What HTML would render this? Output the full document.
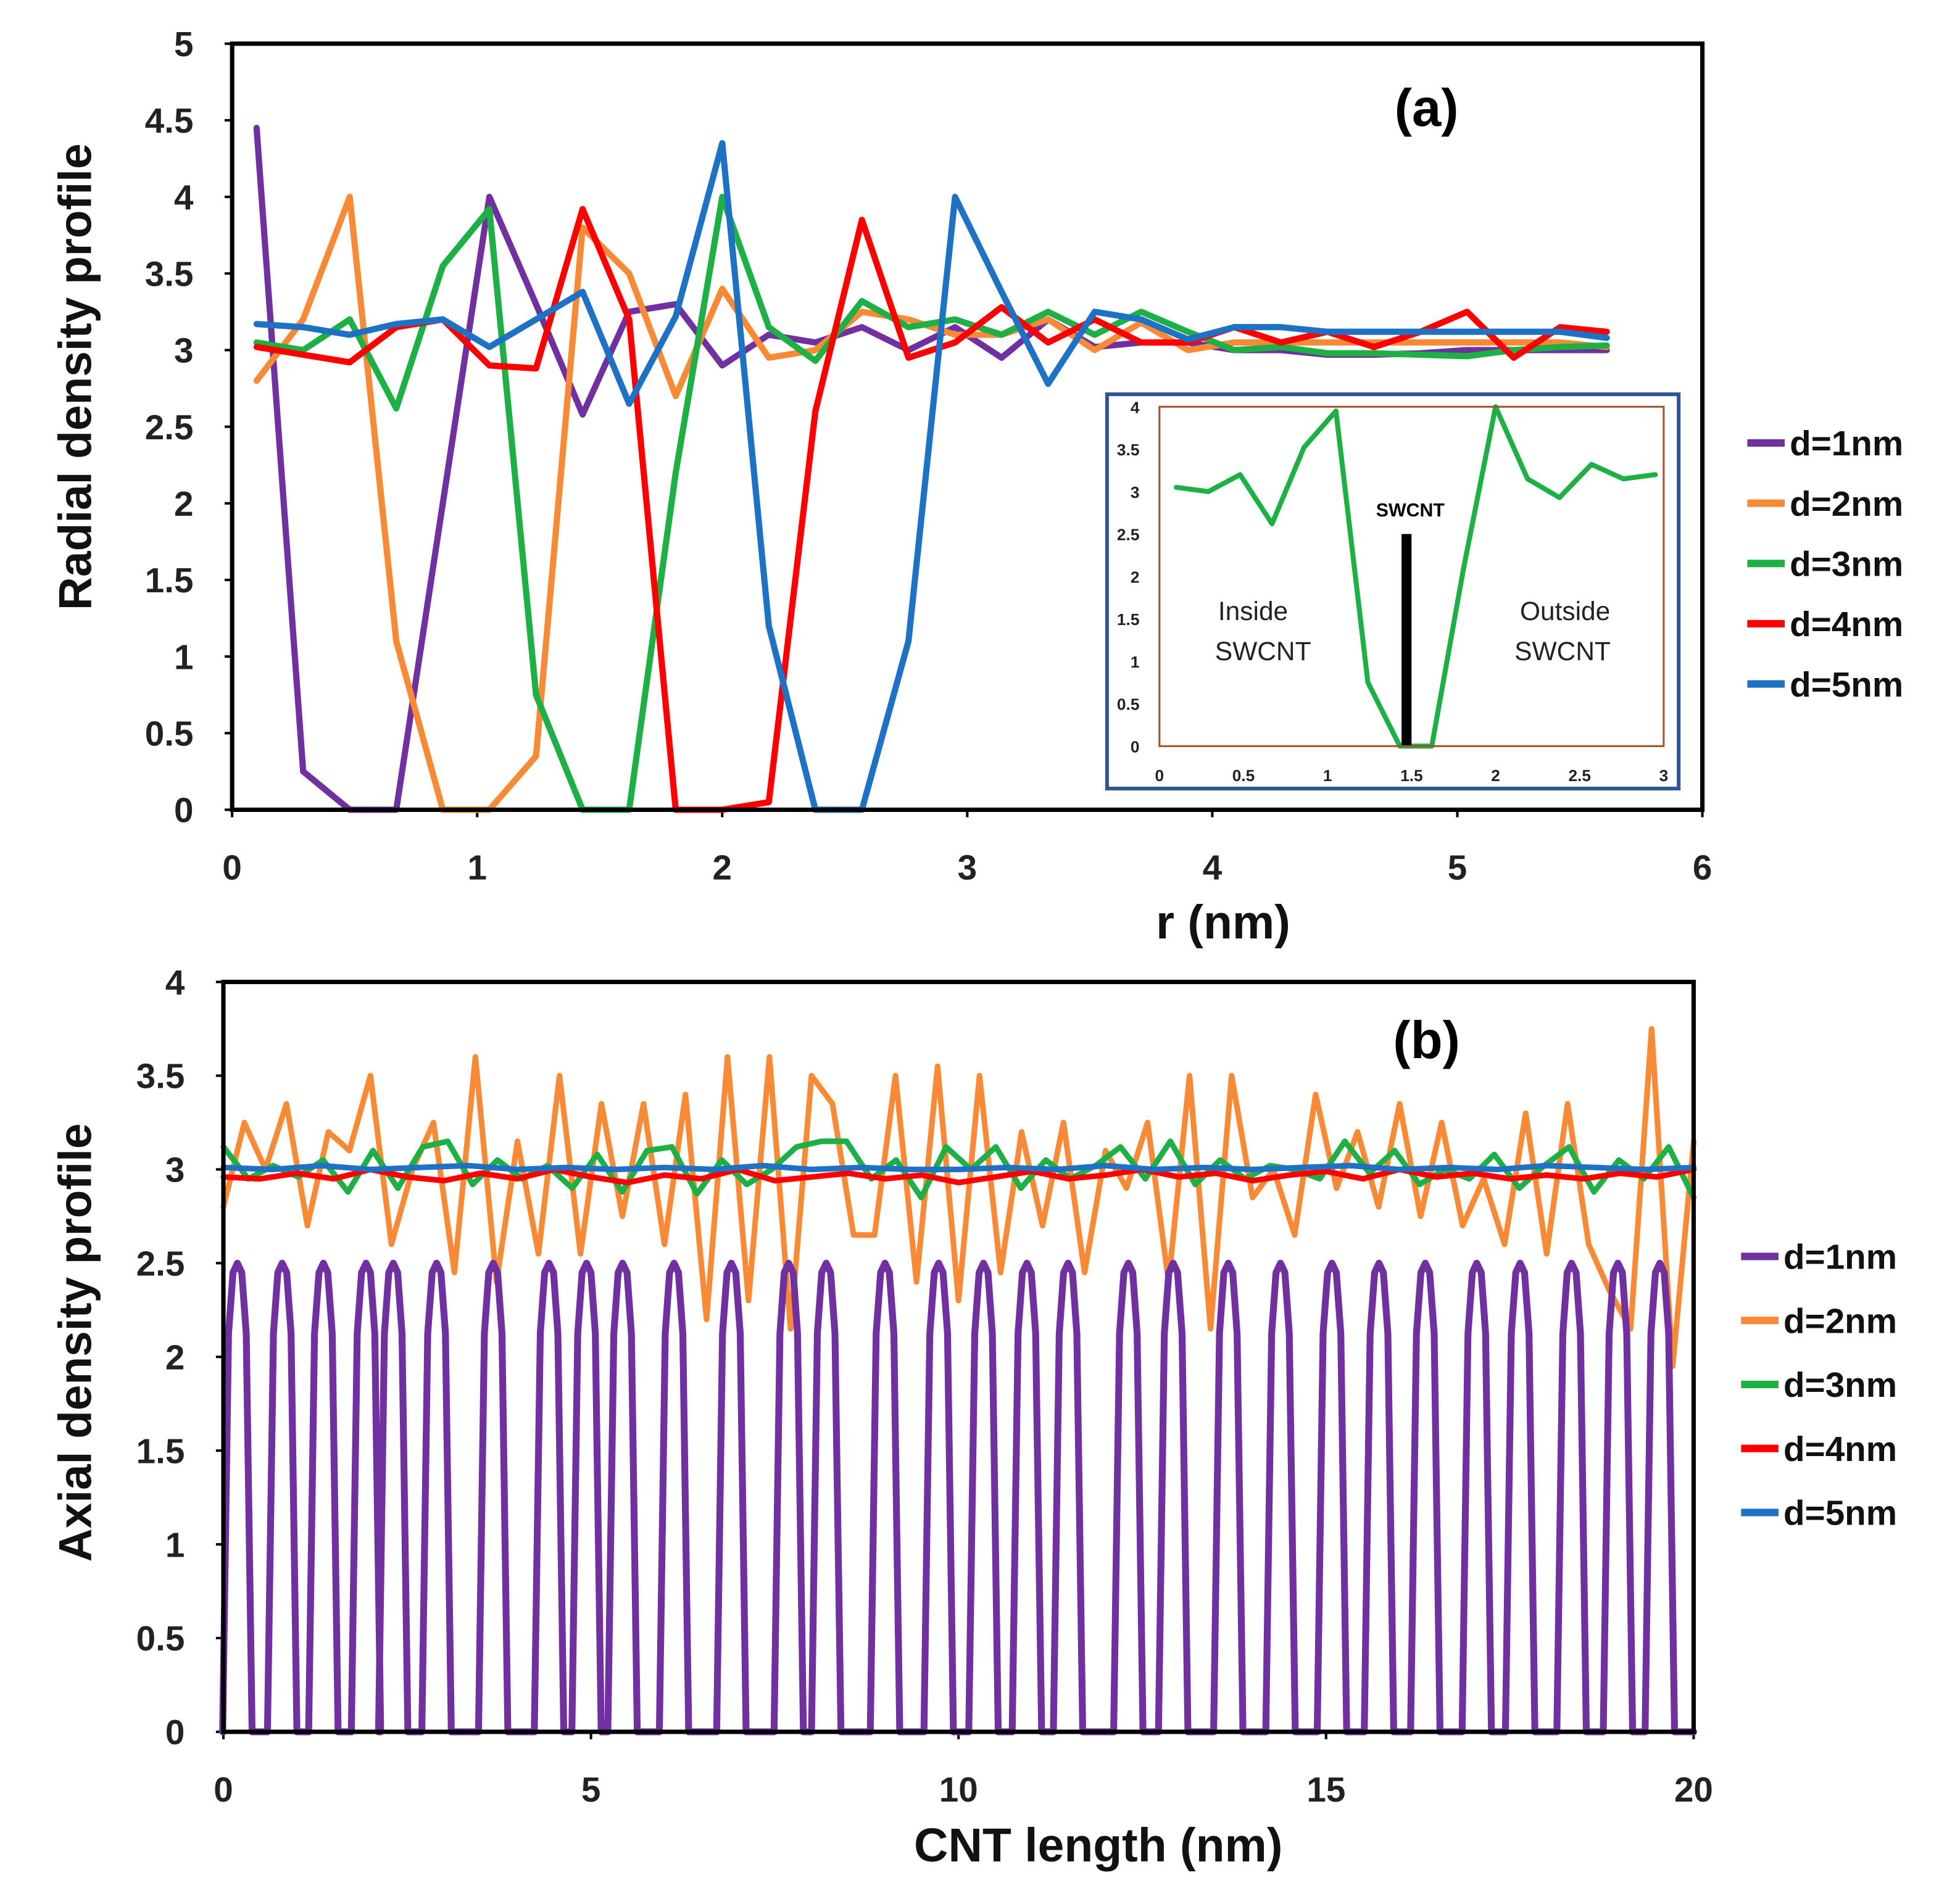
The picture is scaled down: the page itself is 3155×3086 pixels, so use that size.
<!DOCTYPE html>
<html><head><meta charset="utf-8"><style>
html,body{margin:0;padding:0;background:#fff;}
svg{display:block;font-family:"Liberation Sans",Arial,sans-serif;}
</style></head><body>
<svg id="fig" width="3155" height="3086" viewBox="0 0 1560 1526" preserveAspectRatio="none" xmlns="http://www.w3.org/2000/svg">
<rect width="1560" height="1526" fill="#fff"/>
<g id="chartA"></g>
<g id="inset"></g>
<g id="chartB"></g>
</svg>
<script>
// ---------- Data (a) ----------
const rStart = 0.1, rStep = 0.19;
const radD1 = [4.45,0.25,0,0,2.0,4.0,3.3,2.58,3.25,3.3,2.9,3.1,3.05,3.15,3.0,3.15,2.95,3.2,3.02,3.05,3.05,3.0,3.0,2.97,2.97,2.98,3.0,3.0,3.0,3.0];
const radD2 = [2.8,3.2,4.0,1.1,0,0,0.35,3.8,3.5,2.7,3.4,2.95,3.0,3.25,3.2,3.1,3.1,3.2,3.0,3.18,3.0,3.05,3.05,3.05,3.05,3.05,3.05,3.05,3.05,3.02];
const radD3 = [3.05,3.0,3.2,2.62,3.55,3.92,0.75,0,0,2.2,4.0,3.15,2.93,3.32,3.15,3.2,3.1,3.25,3.1,3.25,3.12,3.0,3.02,2.98,2.98,2.97,2.96,3.0,3.02,3.03];
const radD4 = [3.02,2.97,2.92,3.15,3.2,2.9,2.88,3.92,3.2,0,0,0.05,2.6,3.85,2.95,3.05,3.28,3.05,3.2,3.05,3.05,3.15,3.05,3.12,3.02,3.12,3.25,2.95,3.15,3.12];
const radD5 = [3.17,3.15,3.1,3.17,3.2,3.02,3.2,3.38,2.65,3.22,4.35,1.2,0,0,1.1,4.0,3.38,2.78,3.25,3.2,3.07,3.15,3.15,3.12,3.12,3.12,3.12,3.12,3.12,3.08];
const aXTicks = ["0","1","2","3","4","5","6"];
const aYTicks = ["0","0.5","1","1.5","2","2.5","3","3.5","4","4.5","5"];
// inset
const insetVals = [3.05,3.0,3.2,2.62,3.52,3.95,0.75,0,0,2.1,4.0,3.15,2.93,3.32,3.15,3.2];
const insetXTicks = ["0","0.5","1","1.5","2","2.5","3"];
const insetYTicks = ["0","0.5","1","1.5","2","2.5","3","3.5","4"];
const swcntPos = 1.47, swcntHeight = 2.5;
// ---------- Data (b) ----------
const peakCenters = [0.19,0.80,1.36,1.94,2.31,2.90,3.67,4.43,4.94,5.43,6.13,6.91,7.69,8.2,9.0,9.73,10.34,10.93,11.49,12.31,12.92,13.67,14.38,15.08,15.72,16.35,17.05,17.64,18.34,18.97,19.54];
const peakHeight = 2.5;
const axD2 = [2.8,3.25,3.0,3.35,2.7,3.2,3.1,3.5,2.6,3.0,3.25,2.45,3.6,2.4,3.15,2.55,3.5,2.55,3.35,2.75,3.35,2.6,3.4,2.2,3.6,2.3,3.6,2.15,3.5,3.35,2.65,2.65,3.5,2.4,3.55,2.3,3.5,2.45,3.2,2.7,3.25,2.45,3.1,2.9,3.25,2.4,3.5,2.15,3.5,2.85,3.0,2.65,3.4,2.9,3.2,2.8,3.35,2.75,3.25,2.7,2.95,2.6,3.3,2.55,3.35,2.6,2.35,2.15,3.75,1.95,3.15];
const axD3 = [3.12,2.95,3.02,2.96,3.05,2.88,3.1,2.9,3.12,3.15,2.92,3.05,2.95,3.02,2.9,3.08,2.88,3.1,3.12,2.87,3.05,2.92,3.0,3.12,3.15,3.15,2.95,3.05,2.85,3.12,3.0,3.12,2.9,3.05,2.95,3.02,3.12,2.95,3.15,2.92,3.05,2.95,3.02,3.0,2.95,3.15,2.98,3.1,2.92,3.0,2.95,3.08,2.9,3.02,3.12,2.88,3.05,2.95,3.12,2.85];
const axD4 = [2.96,2.95,2.98,2.95,3.0,2.96,2.94,2.98,2.95,3.0,2.96,2.93,2.97,2.95,3.0,2.94,2.96,2.98,2.95,2.97,2.93,2.96,2.99,2.95,2.97,3.0,2.96,2.98,2.94,2.97,2.99,2.95,3.0,2.96,2.98,2.95,2.97,2.95,2.98,2.96,3.0];
const axD5 = [3.01,3.0,3.02,3.0,3.01,3.02,3.0,3.01,3.0,3.01,3.0,3.02,3.0,3.01,3.0,3.0,3.01,3.0,3.02,3.0,3.01,3.0,3.01,3.02,3.0,3.01,3.0,3.02,3.01,3.0,3.01];
const bXTicks = ["0","5","10","15","20"];
const bYTicks = ["0","0.5","1","1.5","2","2.5","3","3.5","4"];
const seriesNames = ["d=1nm","d=2nm","d=3nm","d=4nm","d=5nm"];
const colors = ["#7030A0","#F98A35","#1DB044","#FF0000","#1E72C6"];

const NS="http://www.w3.org/2000/svg";
function mk(tag,attrs,parent,text){const e=document.createElementNS(NS,tag);for(const k in attrs)e.setAttribute(k,attrs[k]);if(text!==undefined)e.textContent=text;parent.appendChild(e);return e;}
function line(pts,color,w,parent,name){
  const p=mk('polyline',{points:pts.map(q=>q[0].toFixed(1)+','+q[1].toFixed(1)).join(' '),fill:'none',stroke:color,'stroke-width':w,'stroke-linejoin':'round','stroke-linecap':'round'},parent);
  
  
  return p;
}

// ---------- Chart A ----------
(function(){
  const g=document.getElementById('chartA');
  const L=186,R=1364,T=35,B=649, xMax=6, yMax=5;
  const sx=v=>L+v/xMax*(R-L), sy=v=>B-v/yMax*(B-T);
  aYTicks.forEach(t=>{const y=sy(parseFloat(t));
    const e=mk('text',{x:155,y:y+10,'text-anchor':'end','font-size':28,'font-weight':'bold',fill:'#222'},g,t);
    
    mk('line',{x1:L-6,x2:L,y1:y,y2:y,stroke:'#000','stroke-width':2},g);});
  aXTicks.forEach(t=>{const x=sx(parseFloat(t));
    const e=mk('text',{x:x,y:705,'text-anchor':'middle','font-size':28,'font-weight':'bold',fill:'#222'},g,t);
    
    mk('line',{x1:x,x2:x,y1:B,y2:B+6,stroke:'#000','stroke-width':2},g);});
  const series=[radD1,radD2,radD3,radD4,radD5];
  series.forEach((s,i)=>line(s.map((v,j)=>[sx(rStart+j*rStep),sy(v)]),colors[i],5,g,'radial-line-'+(i+1)+'nm'));
  const fr=mk('rect',{x:L,y:T,width:R-L,height:B-T,fill:'none',stroke:'#000','stroke-width':3.5},g);
  
  let e=mk('text',{x:1143,y:101,'text-anchor':'middle','font-size':42,'font-weight':'bold',fill:'#000'},g,'(a)');
  
  e=mk('text',{x:980,y:752,'text-anchor':'middle','font-size':38,'font-weight':'bold',fill:'#111'},g,'r (nm)');
  
  e=mk('text',{x:0,y:0,transform:'translate(73,302) rotate(-90)','text-anchor':'middle','font-size':37,'font-weight':'bold',fill:'#111'},g,'Radial density profile');
  
  seriesNames.forEach((n,i)=>{const y=355+i*48.3;
    const l=mk('line',{x1:1400,x2:1430,y1:y,y2:y,stroke:colors[i],'stroke-width':6},g);
    
    const t=mk('text',{x:1434,y:y+10,'font-size':28,'font-weight':'bold',fill:'#111'},g,n);
    });
})();

// ---------- Inset ----------
(function(){
  const g=document.getElementById('inset');
  const L=929,R=1333,T=326,B=598, xMax=3, yMax=4;
  const sx=v=>L+v/xMax*(R-L), sy=v=>B-v/yMax*(B-T);
  mk('rect',{x:887,y:316,width:458,height:316,fill:'#fff',stroke:'#2F5597','stroke-width':3},g);
  insetYTicks.forEach(t=>{const y=sy(parseFloat(t));
    const e=mk('text',{x:913,y:y+5,'text-anchor':'end','font-size':13,'font-weight':'bold',fill:'#222'},g,t);
    });
  insetXTicks.forEach(t=>{const x=sx(parseFloat(t));
    const e=mk('text',{x:x,y:626,'text-anchor':'middle','font-size':13,'font-weight':'bold',fill:'#222'},g,t);
    });
  line(insetVals.map((v,j)=>[sx(rStart+j*rStep),sy(v)]),colors[2],4,g,'inset-line-3nm');
  const bar=mk('rect',{x:sx(swcntPos)-4,y:sy(swcntHeight),width:8,height:sy(0)-sy(swcntHeight),fill:'#000'},g);
  
  mk('rect',{x:L,y:T,width:R-L,height:B-T,fill:'none',stroke:'#A0522D','stroke-width':1.5},g);
  let e=mk('text',{x:1130,y:414,'text-anchor':'middle','font-size':15,'font-weight':'bold',fill:'#000'},g,'SWCNT');
  
  [['Inside',1004,497],['SWCNT',1012,529],['Outside',1254,497],['SWCNT',1252,529]].forEach(a=>{
    const t=mk('text',{x:a[1],y:a[2],'text-anchor':'middle','font-size':21,fill:'#222'},g,a[0]);
    });
})();

// ---------- Chart B ----------
(function(){
  const g=document.getElementById('chartB');
  const L=179,R=1357,T=787,B=1388, xMax=20, yMax=4;
  const sx=v=>L+v/xMax*(R-L), sy=v=>B-v/yMax*(B-T);
  bYTicks.forEach(t=>{const y=sy(parseFloat(t));
    const e=mk('text',{x:148,y:y+10,'text-anchor':'end','font-size':28,'font-weight':'bold',fill:'#222'},g,t);
    
    mk('line',{x1:L-6,x2:L,y1:y,y2:y,stroke:'#000','stroke-width':2},g);});
  bXTicks.forEach(t=>{const x=sx(parseFloat(t));
    const e=mk('text',{x:x,y:1444,'text-anchor':'middle','font-size':28,'font-weight':'bold',fill:'#222'},g,t);
    
    mk('line',{x1:x,x2:x,y1:B,y2:B+6,stroke:'#000','stroke-width':2},g);});
  const pts=[[sx(0),sy(0)]];
  peakCenters.forEach(c=>{
    pts.push([sx(c-0.2),sy(0)]);
    pts.push([sx(c-0.12),sy(peakHeight*0.85)]);
    pts.push([sx(c-0.06),sy(peakHeight*0.98)]);
    pts.push([sx(c),sy(peakHeight)]);
    pts.push([sx(c+0.06),sy(peakHeight*0.98)]);
    pts.push([sx(c+0.12),sy(peakHeight*0.85)]);
    pts.push([sx(c+0.2),sy(0)]);});
  pts.push([sx(20),sy(0)]);
  const uni=s=>s.map((v,j)=>[sx(j*xMax/(s.length-1)),sy(v)]);
  line(uni(axD2),colors[1],4.5,g,'axial-line-2nm');
  line(uni(axD3),colors[2],4.5,g,'axial-line-3nm');
  line(uni(axD4),colors[3],4.5,g,'axial-line-4nm');
  line(uni(axD5),colors[4],4.5,g,'axial-line-5nm');
  line(pts,colors[0],5.5,g,'axial-line-1nm');
  const fr=mk('rect',{x:L,y:T,width:R-L,height:B-T,fill:'none',stroke:'#000','stroke-width':3.5},g);
  
  let e=mk('text',{x:1143,y:848,'text-anchor':'middle','font-size':42,'font-weight':'bold',fill:'#000'},g,'(b)');
  
  e=mk('text',{x:880,y:1492,'text-anchor':'middle','font-size':38,'font-weight':'bold',fill:'#111'},g,'CNT length (nm)');
  
  e=mk('text',{x:0,y:0,transform:'translate(73,1076) rotate(-90)','text-anchor':'middle','font-size':37,'font-weight':'bold',fill:'#111'},g,'Axial density profile');
  
  seriesNames.forEach((n,i)=>{const y=1007+i*51.3;
    const l=mk('line',{x1:1395,x2:1425,y1:y,y2:y,stroke:colors[i],'stroke-width':6},g);
    
    const t=mk('text',{x:1429,y:y+10,'font-size':28,'font-weight':'bold',fill:'#111'},g,n);
    });
})();
</script>
</body></html>
